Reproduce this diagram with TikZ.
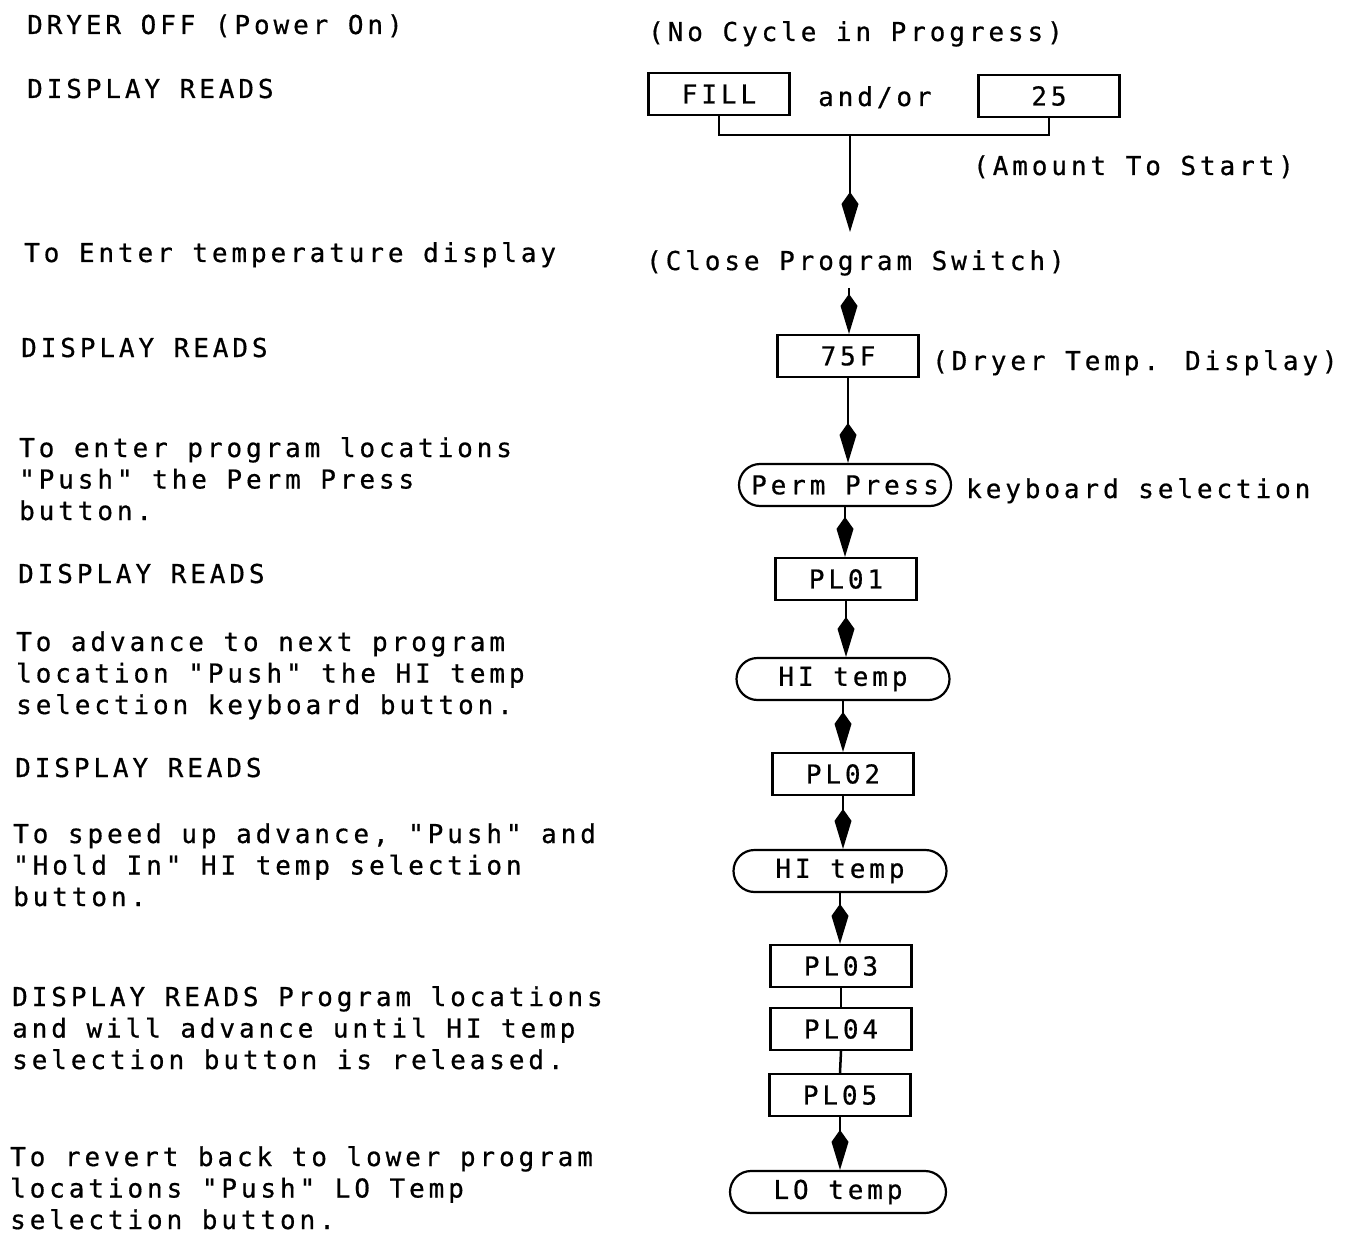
\documentclass[tikz,border=0pt]{standalone}
\usepackage{fontspec}
\usetikzlibrary{arrows.meta}
\usetikzlibrary{positioning}
\newfontfamily\manualfont{DejaVu Sans Mono}[LetterSpace=15,FakeBold=0.6]

\tikzset{
    note/.style={font=\manualfont\fontsize{26}{31.5}\selectfont,inner sep=0pt,anchor=base west,align=left},
    readout/.style={draw,line width=2.2pt,font=\manualfont\fontsize{26}{31.5}\selectfont,minimum width=141pt,minimum height=42pt,inner sep=0pt},
    keypad/.style={readout,rounded corners=21pt,minimum width=213pt},
    flow/.style={line width=2.5pt,-{Kite[length=40pt,width=17pt,inset=12pt]}},
    link/.style={line width=2.5pt}
}

\begin{document}
\begin{tikzpicture}[x=1pt,y=-1pt]

    \useasboundingbox(0,0)rectangle(1349,1233);

    % left column (multi-line notes sit on their last line)
    \node[note](off)at(27,34){DRYER OFF (Power On)};
    \node[note](rd1)at(27,98){DISPLAY READS};
    \node[note](ent)at(24,262){To Enter temperature display};
    \node[note](rd2)at(21,357){DISPLAY READS};
    \node[note](prg)at(19,520){To enter program locations\\"Push" the Perm Press\\button.};
    \node[note](rd3)at(18,583){DISPLAY READS};
    \node[note](adv)at(16,714){To advance to next program\\location "Push" the HI temp\\selection keyboard button.};
    \node[note](rd4)at(15,777){DISPLAY READS};
    \node[note](spd)at(13,906){To speed up advance, "Push" and\\"Hold In" HI temp selection\\button.};
    \node[note](rd5)at(12,1069){DISPLAY READS Program locations\\and will advance until HI temp\\selection button is released.};
    \node[note](rev)at(10,1229){To revert back to lower program\\locations "Push" LO Temp\\selection button.};

    % right column
    \node[note](nocyc)at(648,41){(No Cycle in Progress)};
    \node[readout](fill)at(719,94){FILL};
    \node[note](andor)at(818,106){and/or};
    \node[readout](n25)at(1049,96){25};
    \node[note](amount)at(973,175){(Amount To Start)};
    \coordinate(join)at(850,135);
    \coordinate(tipA)at(850,232);
    \node[note](close)at(646,270){(Close Program Switch)};
    \coordinate(tipB)at(849,288);
    \node[readout](t75)at(848,356){75F};
    \node[note](dtemp)at(932,370){(Dryer Temp. Display)};
    \node[keypad,minimum width=212pt](perm)at(845,485){Perm Press};
    \node[note](kbd)at(966,498){keyboard selection};
    \node[readout](pl1)at(846,579){PL01};
    \node[keypad](hi1)at(843,679){HI temp};
    \node[readout](pl2)at(843,774){PL02};
    \node[keypad](hi2)at(840,871){HI temp};
    \node[readout](pl3)at(841,966){PL03};
    \node[readout](pl4)at(841,1029){PL04};
    \node[readout](pl5)at(840,1095){PL05};
    \node[keypad,minimum width=216pt](lo)at(838,1192){LO temp};

    \draw[link](fill.south)|-(join)-|(n25.south);
    \draw[flow](join)--(tipA);
    \draw[flow](tipB)--(tipB|-t75.north);
    \draw[flow](t75.south)--(t75.south|-perm.north);
    \draw[flow](perm.south)--(perm.south|-pl1.north);
    \draw[flow](pl1.south)--(pl1.south|-hi1.north);
    \draw[flow](hi1.south)--(hi1.south|-pl2.north);
    \draw[flow](pl2.south)--(pl2.south|-hi2.north);
    \draw[flow](hi2.south)--(hi2.south|-pl3.north);
    \draw[link](pl3.south)--(pl4.north);
    \draw[link](pl4.south)--(pl5.north);
    \draw[flow](pl5.south)--(pl5.south|-lo.north);

\end{tikzpicture}
\end{document}
